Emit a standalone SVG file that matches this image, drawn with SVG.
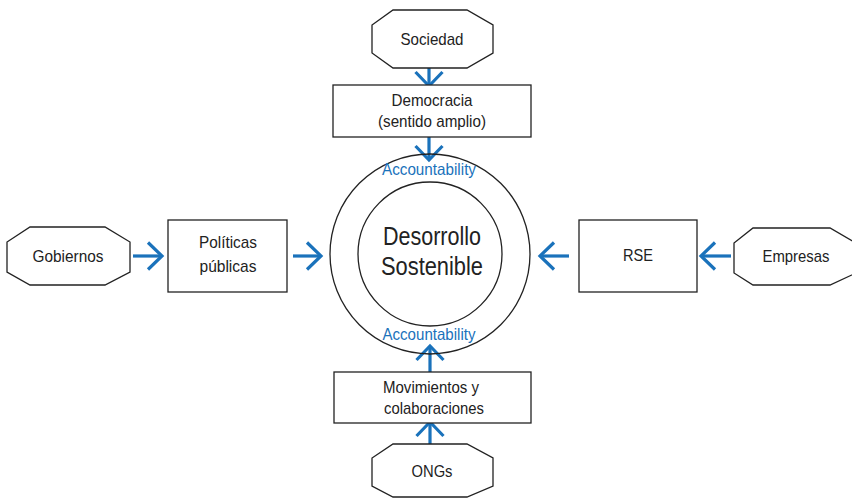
<svg xmlns="http://www.w3.org/2000/svg" width="852" height="500" viewBox="0 0 852 500">
<defs>
<style>
.shape{fill:#fff;stroke:#222;stroke-width:1.3}
.ring{fill:none;stroke:#222;stroke-width:1.3}
.t{font-family:"Liberation Sans",Arial,sans-serif;font-size:17px;fill:#222;text-anchor:middle}
.big{font-size:26.5px}
.acc{font-family:"Liberation Sans",Arial,sans-serif;font-size:16.5px;fill:#1a72bb;text-anchor:middle}
.arrow{stroke:#1a72bb;stroke-width:3.2;fill:none;marker-end:url(#head)}
</style>
<marker id="head" markerUnits="userSpaceOnUse" markerWidth="40" markerHeight="40" viewBox="-20 -20 40 40" refX="0" refY="0" orient="auto">
<path d="M-14,-13.5 L0,0 L-14,13.5" fill="none" stroke="#1a72bb" stroke-width="3.2"/>
</marker>
</defs>
<rect width="852" height="500" fill="#fff"/>

<g id="connectors">
<line class="arrow" x1="429" y1="62" x2="429" y2="86"/>
<line class="arrow" x1="429" y1="137" x2="429" y2="160"/>
<line class="arrow" x1="133" y1="256" x2="162" y2="256"/>
<line class="arrow" x1="293" y1="256" x2="321" y2="256"/>
<line class="arrow" x1="569" y1="256" x2="540" y2="256"/>
<line class="arrow" x1="731" y1="256" x2="701" y2="256"/>
<line class="arrow" x1="430" y1="372" x2="430" y2="346"/>
<line class="arrow" x1="430" y1="448" x2="430" y2="422"/>
</g>

<g id="desarrollo">
<circle class="ring" cx="430" cy="254" r="100"/>
<circle class="ring" cx="430" cy="254" r="72"/>
<text class="t big" x="432" y="245" textLength="98" lengthAdjust="spacingAndGlyphs">Desorrollo</text>
<text class="t big" x="432" y="275" textLength="102" lengthAdjust="spacingAndGlyphs">Sostenible</text>
<text class="acc" x="429" y="175" textLength="94" lengthAdjust="spacingAndGlyphs">Accountability</text>
<text class="acc" x="429" y="340" textLength="93" lengthAdjust="spacingAndGlyphs">Accountability</text>
</g>

<g id="sociedad">
<polygon class="shape" points="393,10 467,10 493,25 493,53 467,68 393,68 372,53 372,25"/>
<text class="t" x="432" y="45" textLength="63" lengthAdjust="spacingAndGlyphs">Sociedad</text>
</g>

<g id="democracia">
<rect class="shape" x="333" y="85" width="198" height="52"/>
<text class="t" x="432" y="106" textLength="81" lengthAdjust="spacingAndGlyphs">Democracia</text>
<text class="t" x="432" y="127" textLength="108" lengthAdjust="spacingAndGlyphs">(sentido amplio)</text>
</g>

<g id="gobiernos">
<polygon class="shape" points="30,227 105,227 130,242 130,272 105,285 30,285 7,272 7,242"/>
<text class="t" x="68" y="262" textLength="71" lengthAdjust="spacingAndGlyphs">Gobiernos</text>
</g>

<g id="politicas">
<rect class="shape" x="168" y="220" width="119" height="72"/>
<text class="t" x="228" y="248" textLength="58" lengthAdjust="spacingAndGlyphs">Políticas</text>
<text class="t" x="228" y="272" textLength="57" lengthAdjust="spacingAndGlyphs">públicas</text>
</g>

<g id="rse">
<rect class="shape" x="579" y="220" width="118" height="72"/>
<text class="t" x="638" y="261" textLength="30" lengthAdjust="spacingAndGlyphs">RSE</text>
</g>

<g id="empresas">
<polygon class="shape" points="753,228 830,228 856,243 856,273 830,285 753,285 734,273 734,243"/>
<text class="t" x="796" y="262" textLength="67" lengthAdjust="spacingAndGlyphs">Empresas</text>
</g>

<g id="movimientos">
<rect class="shape" x="334" y="372" width="197" height="51"/>
<text class="t" x="431" y="393" textLength="96" lengthAdjust="spacingAndGlyphs">Movimientos y</text>
<text class="t" x="434" y="414" textLength="100" lengthAdjust="spacingAndGlyphs">colaboraciones</text>
</g>

<g id="ongs">
<polygon class="shape" points="393,444 467,444 493,458 493,486 467,497 393,497 372,486 372,458"/>
<text class="t" x="432" y="477" textLength="41" lengthAdjust="spacingAndGlyphs">ONGs</text>
</g>
</svg>
